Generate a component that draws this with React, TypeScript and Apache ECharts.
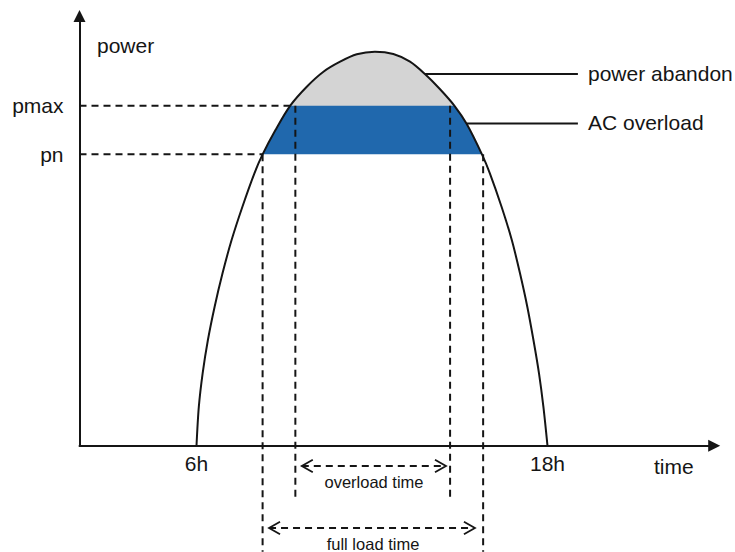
import React, { useEffect, useRef } from 'react';
import * as echarts from 'echarts';

// Generation curve (hour of day, relative power)
const HOURS = [6.0, 6.08, 6.21, 6.39, 6.62, 6.89, 7.2, 7.57, 7.98, 8.26, 8.7, 9.2, 9.77, 10.34, 10.91, 11.48, 12.1, 12.73, 13.3, 13.81, 14.32, 14.82, 15.24, 15.76, 16.03, 16.43, 16.78, 17.06, 17.31, 17.52, 17.71, 17.86, 18.0];
const POWER = [0, 9.08, 16.85, 24.6, 32.35, 40.12, 47.87, 55.62, 63.39, 67.8, 73.47, 79.1, 83.55, 87.04, 89.37, 91.09, 91.69, 91.16, 89.37, 86.5, 83.01, 79.1, 74.87, 67.8, 63.39, 55.62, 47.87, 40.12, 32.35, 24.6, 16.85, 9.08, 0];

const PMAX = 79.1;
const PN = 67.8;
const X_TICKS = [6, 18];
const X_TICK_SUFFIX = 'h';
const Y_TICKS = [PN, PMAX];
const Y_TICK_LABELS = ['pn', 'pmax'];

const PMAX_CROSS = [9.2, 14.82];
const PN_CROSS = [8.26, 15.76];
const FULL_LOAD = [8.26, 15.8];
const OVERLOAD = [9.38, 14.67];
const FULL_BOTTOM = -24.7;
const OVER_BOTTOM = -12.2;
const OVER_ARROW = [9.6, 14.53, -4.72];
const FULL_ARROW = [8.48, 15.52, -19.15];
const ABANDON_LEADER = [13.81, 19.04, 86.48];
const OVERLOAD_LEADER = [15.24, 19.04, 75.0];

const FONT = '"Liberation Sans", Arial, sans-serif';
const INK = '#151515';
const BLUE = '#2068ad';
const GRAY = '#d4d4d4';

export default function App() {
  const ref = useRef<HTMLDivElement>(null);

  useEffect(() => {
    if (!ref.current) return;
    const chart = echarts.init(ref.current, null, { renderer: 'svg' });

    const curve = HOURS.map((h, i) => [h, POWER[i]]);
    const blueBand = curve.filter((p) => p[1] >= PN);
    const grayCap = curve.filter((p) => p[1] >= PMAX);

    // kind: 0 dashed line, 1 solid line, 2 dashed double arrow
    const guides = [
      [2, PMAX, PMAX_CROSS[0], PMAX, 0],
      [2, PN, PN_CROSS[0], PN, 0],
      [FULL_LOAD[0], PN, FULL_LOAD[0], FULL_BOTTOM, 0],
      [FULL_LOAD[1], PN, FULL_LOAD[1], FULL_BOTTOM, 0],
      [OVERLOAD[0], PMAX, OVERLOAD[0], OVER_BOTTOM, 0],
      [OVERLOAD[1], PMAX, OVERLOAD[1], OVER_BOTTOM, 0],
      [ABANDON_LEADER[0], ABANDON_LEADER[2], ABANDON_LEADER[1], ABANDON_LEADER[2], 1],
      [OVERLOAD_LEADER[0], OVERLOAD_LEADER[2], OVERLOAD_LEADER[1], OVERLOAD_LEADER[2], 1],
      [OVER_ARROW[0], OVER_ARROW[2], OVER_ARROW[1], OVER_ARROW[2], 2],
      [FULL_ARROW[0], FULL_ARROW[2], FULL_ARROW[1], FULL_ARROW[2], 2],
    ];

    const text = (t: string, x: number, y: number, size: number, align: string) => ({
      type: 'text',
      x,
      y,
      silent: true,
      style: { text: t, fontSize: size, fontFamily: FONT, fill: INK, align, verticalAlign: 'middle' },
    });

    chart.setOption({
      animation: false,
      grid: { left: 79.5, right: 20.8, top: 16, bottom: 106.3, containLabel: false },
      xAxis: {
        type: 'value',
        min: 2,
        max: 23.7,
        axisLine: {
          show: true,
          symbol: ['none', 'triangle'],
          symbolSize: [12, 12],
          lineStyle: { color: INK, width: 2 },
        },
        axisTick: { show: false },
        splitLine: { show: false },
        axisLabel: {
          customValues: X_TICKS,
          formatter: (v: number) => `${v}${X_TICK_SUFFIX}`,
          fontSize: 21,
          fontFamily: FONT,
          color: INK,
          margin: 17.7,
          verticalAlign: 'middle',
        },
      },
      yAxis: {
        type: 'value',
        min: 0,
        max: 100,
        axisLine: {
          show: true,
          symbol: ['none', 'triangle'],
          symbolSize: [12, 12],
          lineStyle: { color: INK, width: 2 },
        },
        axisTick: { show: false },
        splitLine: { show: false },
        axisLabel: {
          customValues: Y_TICKS,
          formatter: (v: number) => {
            const i = Y_TICKS.findIndex((t) => Math.abs(t - v) < 1e-6);
            return i >= 0 ? Y_TICK_LABELS[i] : '';
          },
          fontSize: 21,
          fontFamily: FONT,
          color: INK,
          margin: 16,
          verticalAlign: 'middle',
        },
      },
      series: [
        {
          name: 'AC overload',
          type: 'line',
          data: blueBand,
          smooth: 0.3,
          symbol: 'none',
          lineStyle: { opacity: 0, width: 0 },
          areaStyle: { color: BLUE, opacity: 1, origin: PN },
          z: 1,
          silent: true,
        },
        {
          name: 'power abandon',
          type: 'line',
          data: grayCap,
          smooth: 0.3,
          symbol: 'none',
          lineStyle: { opacity: 0, width: 0 },
          areaStyle: { color: GRAY, opacity: 1, origin: PMAX },
          z: 2,
          silent: true,
        },
        {
          name: 'power',
          type: 'line',
          data: curve,
          smooth: 0.3,
          symbol: 'none',
          lineStyle: { color: INK, width: 2 },
          z: 4,
          silent: true,
        },
        {
          type: 'custom',
          data: guides,
          encode: { x: [0, 2], y: [1, 3] },
          clip: false,
          silent: true,
          z: 5,
          renderItem: (params: any, api: any) => {
            const p1 = api.coord([api.value(0), api.value(1)]);
            const p2 = api.coord([api.value(2), api.value(3)]);
            const kind = api.value(4);
            const line = {
              type: 'line',
              shape: { x1: p1[0], y1: p1[1], x2: p2[0], y2: p2[1] },
              style: {
                stroke: INK,
                lineWidth: 2,
                lineDash: kind === 1 ? null : [7, 5],
                fill: null,
              },
            };
            if (kind !== 2) return line;
            const y = p1[1];
            return {
              type: 'group',
              children: [
                line,
                {
                  type: 'polyline',
                  shape: { points: [[p1[0] + 11, y - 6.3], [p1[0], y], [p1[0] + 11, y + 6.3]] },
                  style: { stroke: INK, lineWidth: 1.8, fill: null },
                },
                {
                  type: 'polyline',
                  shape: { points: [[p2[0] - 11, y - 6.3], [p2[0], y], [p2[0] - 11, y + 6.3]] },
                  style: { stroke: INK, lineWidth: 1.8, fill: null },
                },
              ],
            };
          },
        },
      ],
      graphic: [
        text('power', 97, 45.4, 21, 'left'),
        text('power abandon', 588, 73.4, 21, 'left'),
        text('AC overload', 588, 122, 21, 'left'),
        text('time', 654, 466.7, 21, 'left'),
        text('overload time', 374, 482.3, 16.5, 'center'),
        text('full load time', 373, 544.3, 16.5, 'center'),
      ],
    });

    return () => chart.dispose();
  }, []);

  return (
    <div
      ref={ref}
      style={{ position: 'absolute', left: 0, top: 0, width: 735, height: 552, background: '#fff' }}
    />
  );
}
